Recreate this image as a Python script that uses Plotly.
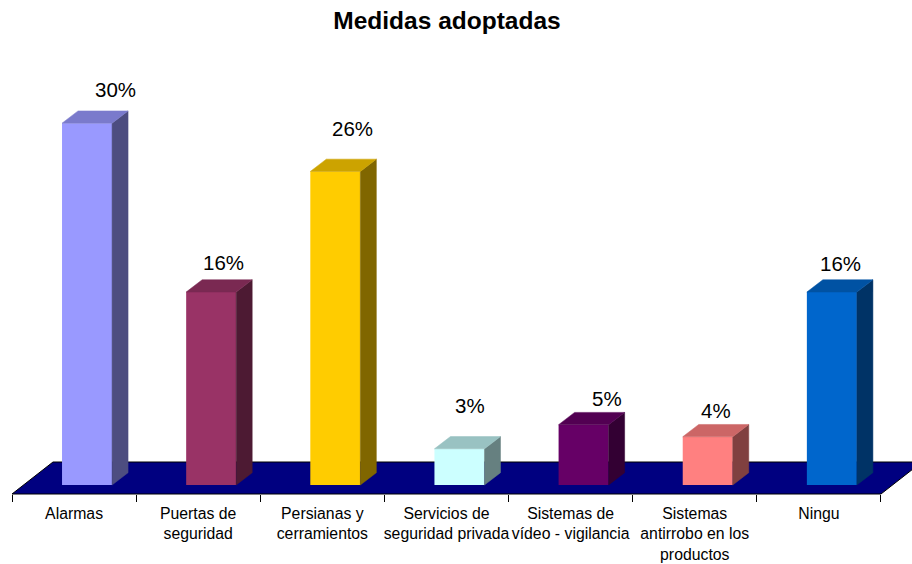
import plotly.graph_objects as go

# ---- data ----
categories = [
    "Alarmas",
    "Puertas de<br>seguridad",
    "Persianas y<br>cerramientos",
    "Servicios de<br>seguridad privada",
    "Sistemas de<br>vídeo - vigilancia",
    "Sistemas<br>antirrobo en los<br>productos",
    "Ningu",
]
values = [30, 16, 26, 3, 5, 4, 16]
value_labels = ["30%", "16%", "26%", "3%", "5%", "4%", "16%"]

# ---- colours (front, side, top of each column) ----
front_colors = ["#9999FF", "#993366", "#FFCC00", "#CCFFFF", "#660066", "#FF8080", "#0066CC"]
side_colors = ["#4D4D80", "#4D1A33", "#806600", "#668080", "#330033", "#804040", "#003366"]
top_colors = ["#7A7ACC", "#7A2952", "#CCA300", "#99C2C2", "#520052", "#CC6666", "#0052A3"]
floor_color = "#000080"

# ---- pseudo-3D geometry (category units on x, percent units on y) ----
W, H = 912, 564
PX_PER_CAT = 124.14
PX_PER_PCT = 12.06
ORIGIN_X_PX = 12       # left end of the floor's front edge
BASE_Y_PX = 485        # column base line
BAR_OFFSET = 0.403     # front face left edge, from category start
BAR_WIDTH = 0.403
DEPTH_X = 0.129        # column depth projection
DEPTH_Y = 1.02
FLOOR_FRONT = -0.746
FLOOR_BACK = 1.907
FLOOR_SHIFT = 0.330

# label nudges in pixels (right, up) from the column's top-front centre
label_dx = [28.5, 11.9, 16.7, 10.6, 23.4, 8.0, 8.8]
label_dy = [34.0, 30.0, 43.4, 43.8, 26.7, 25.8, 29.0]

x_range = [-ORIGIN_X_PX / PX_PER_CAT, (W - ORIGIN_X_PX) / PX_PER_CAT]
y_range = [-(H - BASE_Y_PX) / PX_PER_PCT, BASE_Y_PX / PX_PER_PCT]

font_family = "Liberation Sans, Arial, sans-serif"
n = len(categories)
centers = [i + BAR_OFFSET + BAR_WIDTH / 2 for i in range(n)]

fig = go.Figure()

# front faces
fig.add_trace(go.Bar(
    x=centers, y=values, width=BAR_WIDTH, base=0,
    marker=dict(color=front_colors, line=dict(width=0)),
    hoverinfo="skip", showlegend=False,
))

# side and top faces
for i, v in enumerate(values):
    xl = centers[i] - BAR_WIDTH / 2
    xr = centers[i] + BAR_WIDTH / 2
    fig.add_trace(go.Scatter(
        x=[xr, xr + DEPTH_X, xr + DEPTH_X, xr, xr],
        y=[0, DEPTH_Y, v + DEPTH_Y, v, 0],
        mode="lines", fill="toself", fillcolor=side_colors[i],
        line=dict(width=0.5, color=side_colors[i]),
        hoverinfo="skip", showlegend=False,
    ))
    fig.add_trace(go.Scatter(
        x=[xl, xl + DEPTH_X, xr + DEPTH_X, xr, xl],
        y=[v, v + DEPTH_Y, v + DEPTH_Y, v, v],
        mode="lines", fill="toself", fillcolor=top_colors[i],
        line=dict(width=0.5, color=top_colors[i]),
        hoverinfo="skip", showlegend=False,
    ))

# floor
floor_path = (
    f"M 0,{FLOOR_FRONT} L {n},{FLOOR_FRONT} "
    f"L {n + FLOOR_SHIFT},{FLOOR_BACK} L {FLOOR_SHIFT},{FLOOR_BACK} Z"
)
fig.add_shape(type="path", path=floor_path, xref="x", yref="y",
              fillcolor=floor_color, line=dict(color="black", width=1), layer="below")

# value labels
for i, v in enumerate(values):
    fig.add_annotation(
        x=centers[i], y=v, xref="x", yref="y", text=value_labels[i],
        showarrow=False, xanchor="center", yanchor="middle",
        xshift=label_dx[i], yshift=label_dy[i],
        font=dict(family=font_family, size=20.5, color="black"),
    )

floor_front_px = BASE_Y_PX - FLOOR_FRONT * PX_PER_PCT

fig.update_layout(
    width=W, height=H,
    margin=dict(l=0, r=0, t=0, b=0),
    paper_bgcolor="white", plot_bgcolor="white",
    showlegend=False,
    title=dict(
        text="<b>Medidas adoptadas</b>",
        x=447 / W, y=1 - 20 / H, xanchor="center", yanchor="middle",
        font=dict(family=font_family, size=24.5, color="black"),
    ),
    xaxis=dict(
        range=x_range, anchor="free", position=1 - floor_front_px / H,
        showgrid=False, zeroline=False, showline=False,
        tickvals=[i + 0.5 for i in range(n)], ticktext=categories,
        ticks="", ticklabelstandoff=8,
        tickfont=dict(family=font_family, size=15.8, color="black"),
        minor=dict(tickvals=list(range(n + 1)), ticks="outside",
                   ticklen=7, tickwidth=1, tickcolor="black", showgrid=False),
        fixedrange=True,
    ),
    yaxis=dict(range=y_range, visible=False, fixedrange=True),
)

fig.write_html("out.html")
